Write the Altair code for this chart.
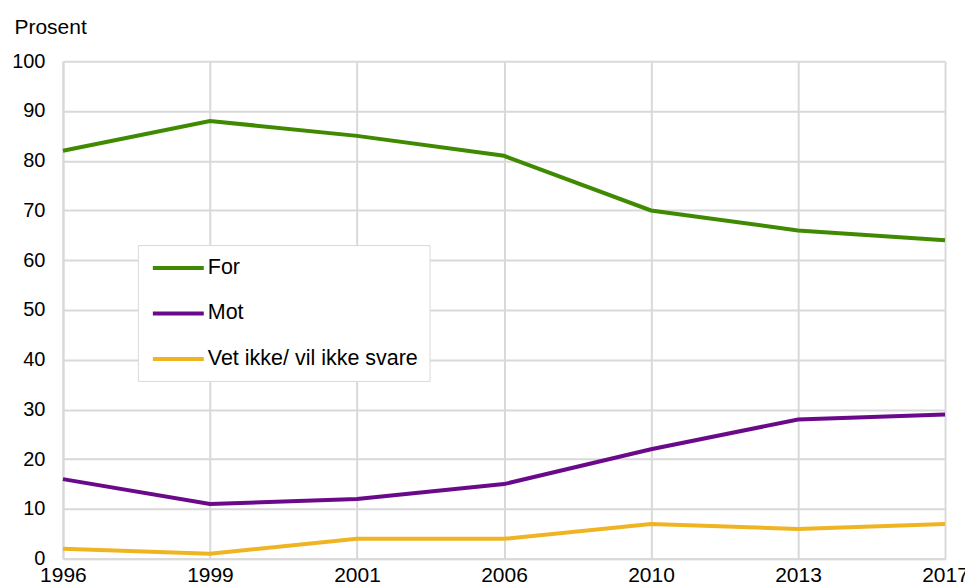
import altair as alt
import pandas as pd

years = ["1996", "1999", "2001", "2006", "2010", "2013", "2017"]
series_names = ["For", "Mot", "Vet ikke/ vil ikke svare"]
for_vals = [82, 88, 85, 81, 70, 66, 64]
mot_vals = [16, 11, 12, 15, 22, 28, 29]
vet_vals = [2, 1, 4, 4, 7, 6, 7]
colors = ["#3f8a00", "#6a0a8a", "#efb422"]
y_ticks = list(range(0, 101, 10))

rows = []
for name, vals in zip(series_names, [for_vals, mot_vals, vet_vals]):
    for yr, v in zip(years, vals):
        rows.append({"year": yr, "value": v, "series": name})
df = pd.DataFrame(rows)

FONT = "Liberation Sans"
FS = 20
FS_L = 21

chart = alt.Chart(df).mark_line(strokeWidth=4, strokeCap="butt").encode(
    x=alt.X("year:O", sort=years,
            scale=alt.Scale(type="point", padding=0),
            axis=alt.Axis(title=None, labelAngle=0, labelPadding=6, ticks=False,
                          grid=True, gridColor="#d9d9d9", gridWidth=2,
                          domainColor="#d9d9d9", domainWidth=2,
                          labelFont=FONT, labelFontSize=FS_L, labelColor="#000")),
    y=alt.Y("value:Q", scale=alt.Scale(domain=[0, 100], nice=False),
            axis=alt.Axis(values=y_ticks, title="Prosent", titleAngle=0,
                          titleAlign="left", titleBaseline="alphabetic",
                          titleX=-49, titleY=-28, titleFont=FONT,
                          titleFontSize=FS_L, titleFontWeight="normal", titleColor="#000",
                          ticks=False, labelPadding=18, grid=True,
                          gridColor="#d9d9d9", gridWidth=2,
                          domainColor="#d9d9d9", domainWidth=2,
                          labelFont=FONT, labelFontSize=FS, labelColor="#000")),
    color=alt.Color("series:N", sort=series_names,
                    scale=alt.Scale(domain=series_names, range=colors),
                    legend=alt.Legend(title=None, orient="none", legendX=75, legendY=184,
                                      symbolType="M-0.8,0H4.3", symbolSize=400,
                                      symbolStrokeWidth=4, labelOffset=35,
                                      labelFont=FONT, labelFontSize=21.5, labelColor="#000",
                                      rowPadding=22.5, padding=11,
                                      strokeColor="#d9d9d9", fillColor="white",
                                      labelLimit=400)),
).properties(
    width=883, height=498,
    autosize=alt.AutoSizeParams(type="none"),
    padding={"left": 55, "top": 53, "right": 20, "bottom": 27},
).configure_view(stroke=None)

chart.save("out.html", embed_options={"renderer": "svg", "actions": False})
